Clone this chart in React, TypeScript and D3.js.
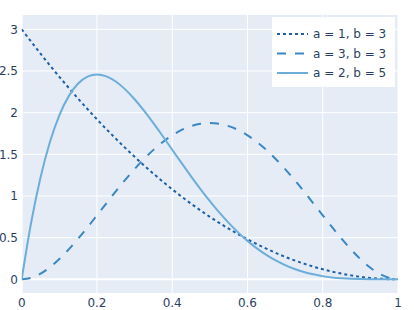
import React from 'react';
import * as d3 from 'd3';

// x positions sampled every 0.025
const xs = d3.range(0, 41).map(i => i / 40);

const beta13 = [
  3.0, 2.852, 2.708, 2.567, 2.43, 2.297, 2.168, 2.042, 1.92, 1.802, 1.688,
  1.577, 1.47, 1.367, 1.268, 1.172, 1.08, 0.992, 0.908, 0.827, 0.75, 0.677,
  0.608, 0.542, 0.48, 0.422, 0.368, 0.317, 0.27, 0.227, 0.188, 0.152, 0.12,
  0.092, 0.068, 0.047, 0.03, 0.017, 0.008, 0.002, 0,
];

const beta33 = [
  0, 0.018, 0.068, 0.144, 0.243, 0.359, 0.488, 0.625, 0.768, 0.912, 1.055,
  1.193, 1.323, 1.444, 1.553, 1.648, 1.728, 1.792, 1.838, 1.866, 1.875, 1.866,
  1.838, 1.792, 1.728, 1.648, 1.553, 1.444, 1.323, 1.193, 1.055, 0.912, 0.768,
  0.625, 0.488, 0.359, 0.243, 0.144, 0.068, 0.018, 0,
];

const beta25 = [
  0, 0.678, 1.222, 1.647, 1.968, 2.198, 2.349, 2.432, 2.458, 2.435, 2.373,
  2.279, 2.161, 2.024, 1.874, 1.717, 1.555, 1.394, 1.235, 1.083, 0.938, 0.802,
  0.677, 0.563, 0.461, 0.371, 0.293, 0.226, 0.17, 0.124, 0.088, 0.06, 0.038,
  0.023, 0.013, 0.006, 0.003, 0.001, 0, 0, 0,
];

const seriesNames = ['a = 1, b = 3', 'a = 3, b = 3', 'a = 2, b = 5'];
const xTicks = [0, 0.2, 0.4, 0.6, 0.8, 1];
const yTicks = [0, 0.5, 1, 1.5, 2, 2.5, 3];

const App = () => {
  const width = 414;
  const height = 310;
  const plot = { left: 21.7, right: 398, top: 15, bottom: 293 };
  const font = '"DejaVu Sans", Verdana, sans-serif';
  const textColor = '#2a3f5f';

  const xScale = d3.scaleLinear().domain([0, 1]).range([plot.left, plot.right]);
  const yScale = d3.scaleLinear().domain([0, 3]).range([279.3, 29.3]);

  const line = d3
    .line<number>()
    .x((d, i) => xScale(xs[i]))
    .y(d => yScale(d))
    .curve(d3.curveMonotoneX);

  const series = [
    { name: seriesNames[0], values: beta13, color: '#1d5fa6', dash: '3,3' },
    { name: seriesNames[1], values: beta33, color: '#3a87c6', dash: '9,9' },
    { name: seriesNames[2], values: beta25, color: '#6caed9', dash: null },
  ];

  return (
    <svg
      width={width}
      height={height}
      style={{ position: 'absolute', left: 0, top: 0, background: '#fff' }}
    >
      <defs>
        <clipPath id='plotClip'>
          <rect
            x={plot.left}
            y={plot.top}
            width={plot.right - plot.left}
            height={plot.bottom - plot.top}
          />
        </clipPath>
      </defs>
      <rect
        x={plot.left}
        y={plot.top}
        width={plot.right - plot.left}
        height={plot.bottom - plot.top}
        fill='#e5ecf6'
      />
      {xTicks.map(t => (
        <line
          key={`xg-${t}`}
          x1={xScale(t)}
          x2={xScale(t)}
          y1={plot.top}
          y2={plot.bottom}
          stroke='#fff'
          strokeWidth={t === 0 ? 2 : 1}
        />
      ))}
      {yTicks.map(t => (
        <line
          key={`yg-${t}`}
          x1={plot.left}
          x2={plot.right}
          y1={yScale(t)}
          y2={yScale(t)}
          stroke='#fff'
          strokeWidth={t === 0 ? 2 : 1}
        />
      ))}
      <g clipPath='url(#plotClip)'>
        {series.map(s => (
          <path
            key={s.name}
            d={line(s.values) || ''}
            fill='none'
            stroke={s.color}
            strokeWidth={2}
            strokeDasharray={s.dash || undefined}
          />
        ))}
      </g>
      {xTicks.map(t => (
        <text
          key={`xt-${t}`}
          x={xScale(t)}
          y={307}
          textAnchor='middle'
          fontFamily={font}
          fontSize={12}
          fill={textColor}
        >
          {t}
        </text>
      ))}
      {yTicks.map(t => (
        <text
          key={`yt-${t}`}
          x={18}
          y={yScale(t)}
          dy='0.35em'
          textAnchor='end'
          fontFamily={font}
          fontSize={12}
          fill={textColor}
        >
          {t}
        </text>
      ))}
      <g transform='translate(272, 17)'>
        <rect width={123} height={70} fill='#fff' />
        {series.map((s, i) => (
          <g key={`leg-${i}`} transform={`translate(0, ${17 + i * 19.5})`}>
            <line
              x1={5}
              x2={36}
              y1={0}
              y2={0}
              stroke={s.color}
              strokeWidth={2}
              strokeDasharray={s.dash || undefined}
            />
            <text
              x={41}
              y={0}
              dy='0.35em'
              fontFamily={font}
              fontSize={12}
              fill={textColor}
            >
              {s.name}
            </text>
          </g>
        ))}
      </g>
    </svg>
  );
};

export default App;
